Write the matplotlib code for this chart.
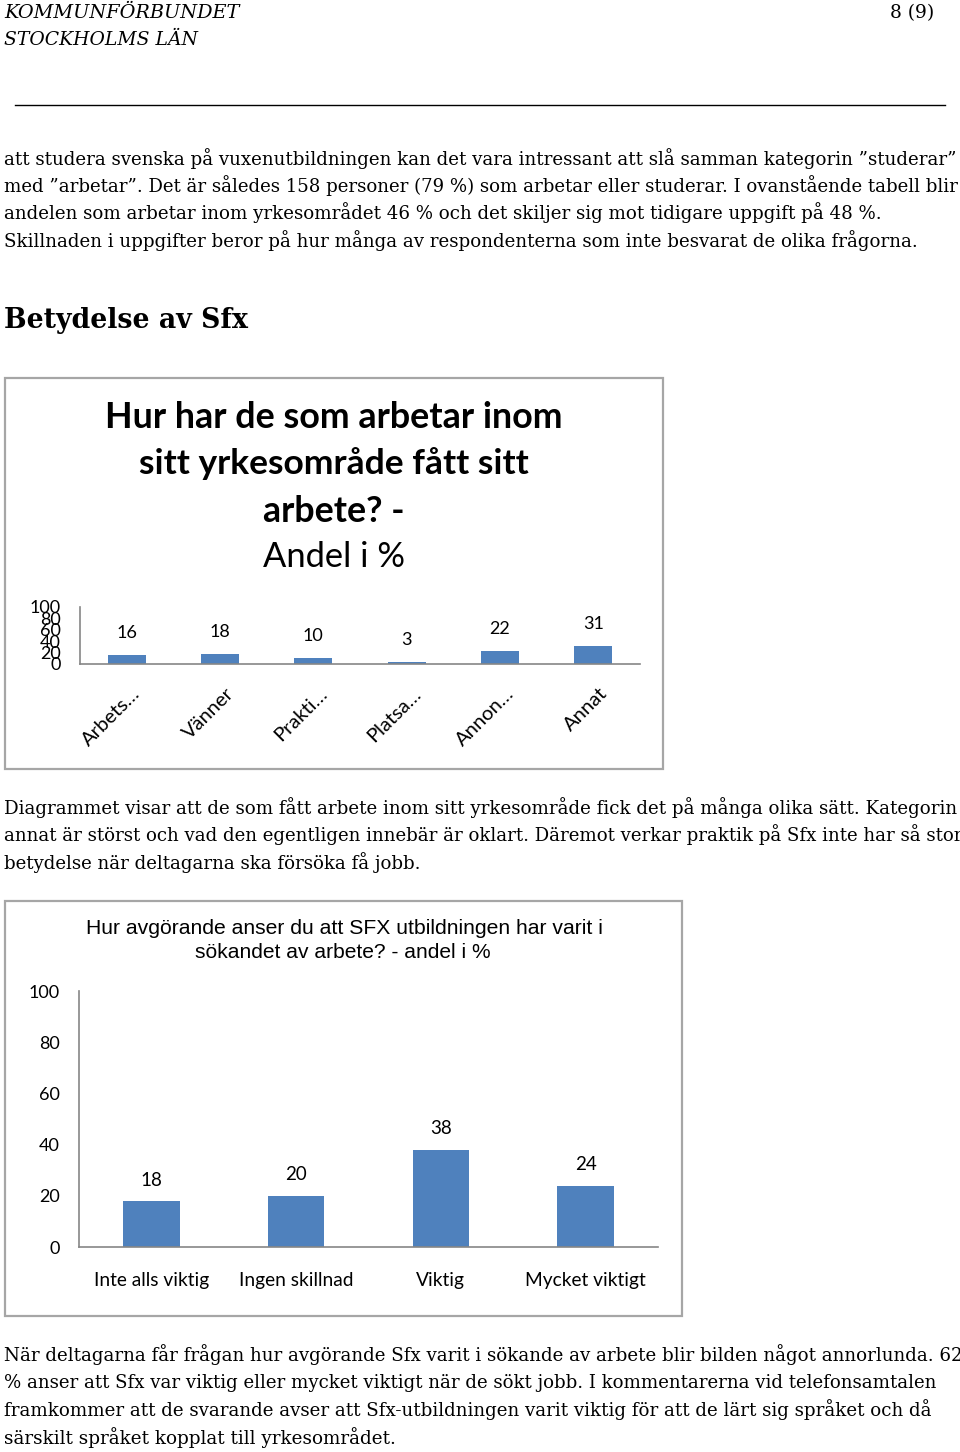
import matplotlib
matplotlib.use("Agg")
import matplotlib.pyplot as plt
from matplotlib.patches import Rectangle
from matplotlib.transforms import ScaledTranslation

# ---------------------------------------------------------------------------
# Data
# ---------------------------------------------------------------------------
c1_title = ["Hur har de som arbetar inom", "sitt yrkesområde fått sitt", "arbete? -"]
c1_sub = "Andel i %"
c1_cats = ["Arbets…", "Vänner", "Prakti…", "Platsa…", "Annon…", "Annat"]
c1_vals = [16, 18, 10, 3, 22, 31]

c2_title = ["Hur avgörande anser du att SFX utbildningen har varit i",
            "sökandet av arbete? - andel i %"]
c2_cats = ["Inte alls viktig", "Ingen skillnad", "Viktig", "Mycket viktigt"]
c2_vals = [18, 20, 38, 24]

y_ticks = [0, 20, 40, 60, 80, 100]

para1 = [
    "att studera svenska på vuxenutbildningen kan det vara intressant att slå samman kategorin ”studerar”",
    "med ”arbetar”. Det är således 158 personer (79 %) som arbetar eller studerar. I ovanstående tabell blir",
    "andelen som arbetar inom yrkesområdet 46 % och det skiljer sig mot tidigare uppgift på 48 %.",
    "Skillnaden i uppgifter beror på hur många av respondenterna som inte besvarat de olika frågorna.",
]
para2 = [
    "Diagrammet visar att de som fått arbete inom sitt yrkesområde fick det på många olika sätt. Kategorin",
    "annat är störst och vad den egentligen innebär är oklart. Däremot verkar praktik på Sfx inte har så stor",
    "betydelse när deltagarna ska försöka få jobb.",
]
para3 = [
    "När deltagarna får frågan hur avgörande Sfx varit i sökande av arbete blir bilden något annorlunda. 62",
    "% anser att Sfx var viktig eller mycket viktigt när de sökt jobb. I kommentarerna vid telefonsamtalen",
    "framkommer att de svarande avser att Sfx-utbildningen varit viktig för att de lärt sig språket och då",
    "särskilt språket kopplat till yrkesområdet.",
]

BLUE = "#4f81bd"
AXIS = "#868686"
FRAME = "#a6a6a6"
SERIF = "DejaVu Serif"
SANS = "Lato"

W, H = 960, 1452
fig = plt.figure(figsize=(W / 100, H / 100), dpi=100)
fig.patch.set_facecolor("white")
renderer = fig.canvas.get_renderer()


def put(x, y, s, width=None, size=12, ha="left", family=SERIF, **kw):
    """Place text at pixel coords (from top-left); optionally scale to a pixel width."""
    t = fig.text(x / W, 1 - y / H, s, fontsize=size, ha=ha, va="center",
                 family=family, **kw)
    if width:
        w = t.get_window_extent(renderer).width
        t.set_fontsize(size * width / w)
    return t


def frame(x0, y0, x1, y1):
    fig.add_artist(Rectangle((x0 / W, 1 - y1 / H), (x1 - x0) / W, (y1 - y0) / H,
                             transform=fig.transFigure, fill=False,
                             ec=FRAME, lw=1.6))


# --- page header ---
put(4, 13, "KOMMUNFÖRBUNDET", width=234, style="italic")
put(4, 40, "STOCKHOLMS LÄN", width=193, style="italic")
put(934, 13, "8 (9)", width=44, ha="right")
fig.add_artist(plt.Line2D([15 / W, 945 / W], [1 - 105 / H] * 2,
                          transform=fig.transFigure, color="black", lw=1))

# --- paragraph 1 ---
for y, line, w in zip([159, 186, 213, 241], para1, [951, 948, 876, 912]):
    put(4, y, line, width=w)

put(4, 320, "Betydelse av Sfx", width=243, weight="bold")

# ---------------------------------------------------------------------------
# Chart 1
# ---------------------------------------------------------------------------
frame(5, 378, 663, 769)
for y, line, w in zip([418, 464, 511], c1_title, [457, 387, 141]):
    put(334, y, line, width=w, ha="center", family=SANS, weight="bold")
put(334, 557, c1_sub, width=142, ha="center", family=SANS)


def style_axes(ax):
    for s in ["top", "right"]:
        ax.spines[s].set_visible(False)
    for s in ["left", "bottom"]:
        ax.spines[s].set_color(AXIS)
        ax.spines[s].set_linewidth(1.2)
    ax.set_ylim(0, 100)
    ax.set_yticks(y_ticks)
    ax.tick_params(axis="y", length=0, pad=14, labelsize=13)
    ax.tick_params(axis="x", length=0)
    for lab in ax.get_yticklabels():
        lab.set_family(SANS)


ax1 = fig.add_axes([80 / W, 1 - 664 / H, 560 / W, 57 / H])
ax1.bar(range(len(c1_vals)), c1_vals, width=0.41, color=BLUE, zorder=2)
ax1.set_xlim(-0.5, len(c1_vals) - 0.5)
style_axes(ax1)
ax1.set_xticks(range(len(c1_cats)))
ax1.set_xticklabels(c1_cats, rotation=45, ha="right", va="top",
                    rotation_mode="anchor", family=SANS, fontsize=14.5)
ax1.tick_params(axis="x", pad=15)
for lab in ax1.get_xticklabels():
    lab.set_transform(lab.get_transform() + ScaledTranslation(0.05, 0, fig.dpi_scale_trans))
for i, v in enumerate(c1_vals):
    ax1.annotate(str(v), (i, v), xytext=(0, 16), textcoords="offset points",
                 ha="center", va="center", family=SANS, fontsize=13)

# --- paragraph 2 ---
for y, line, w in zip([808, 835, 863], para2, [950, 956, 415]):
    put(4, y, line, width=w)

# ---------------------------------------------------------------------------
# Chart 2
# ---------------------------------------------------------------------------
frame(5, 901, 682, 1316)
put(344, 929, c2_title[0], width=518, ha="center", family="Liberation Sans")
put(343, 953, c2_title[1], width=296, ha="center", family="Liberation Sans")

ax2 = fig.add_axes([79 / W, 1 - 1247 / H, 579 / W, 256 / H])
ax2.bar(range(len(c2_vals)), c2_vals, width=0.39, color=BLUE, zorder=2)
ax2.set_xlim(-0.5, len(c2_vals) - 0.5)
style_axes(ax2)
ax2.set_xticks(range(len(c2_cats)))
ax2.set_xticklabels(c2_cats, family=SANS, fontsize=13.8)
ax2.tick_params(axis="x", pad=18)
for i, v in enumerate(c2_vals):
    ax2.annotate(str(v), (i, v), xytext=(0, 15), textcoords="offset points",
                 ha="center", va="center", family=SANS, fontsize=13.5)

# --- paragraph 3 ---
for y, line, w in zip([1355, 1383, 1410, 1438], para3, [954, 927, 925, 389]):
    put(4, y, line, width=w)

fig.savefig("out.png", dpi=100, facecolor="white")
